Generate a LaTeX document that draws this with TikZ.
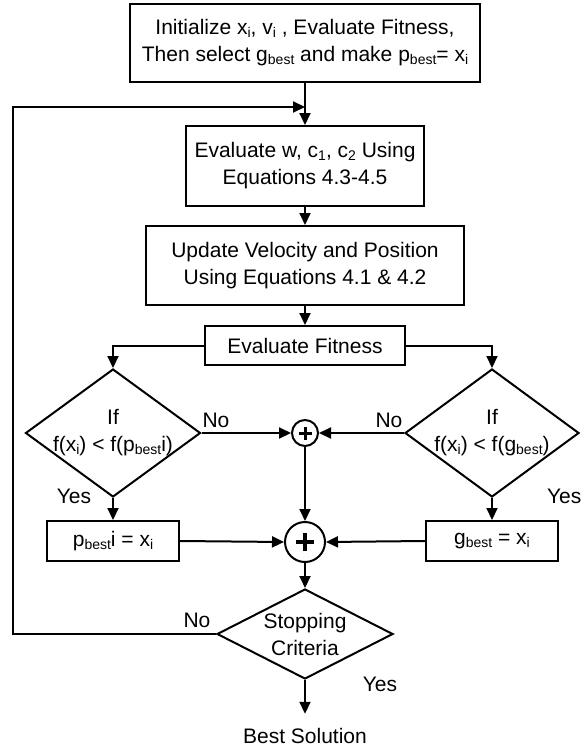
\documentclass[tikz,border=0pt]{standalone}
\usepackage{fontspec}
\setmainfont{Liberation Sans}
\usetikzlibrary{arrows.meta,shapes.geometric}
% lowered, smaller text for subscripts
\newcommand{\sbs}[1]{\raisebox{-0.25ex}{\fontsize{14}{14}\selectfont #1}}

\begin{document}
\begin{tikzpicture}[x=1pt,y=-1pt,
  every node/.style={font=\fontsize{21}{27}\selectfont},
  line width=2pt,
  box/.style={draw, rectangle, inner sep=0pt, align=center},
  dec/.style={draw, diamond, inner sep=0pt},
  sumnode/.style={draw, circle, inner sep=0pt},
  arr/.style={-{Triangle[length=12pt,width=11pt]}},
  lbl/.style={inner sep=0pt, anchor=base},
  dectext/.style={inner sep=0pt, align=center},
]
\useasboundingbox (0,0) rectangle (581,752);

% process boxes
\node[box, minimum width=350pt, minimum height=78pt] (init) at (305,43)
  {Initialize x\sbs{i}, v\sbs{i} , Evaluate Fitness,\\Then select g\sbs{best} and make p\sbs{best}= x\sbs{i}};
\node[box, minimum width=238pt, minimum height=80pt] (coef) at (305,166)
  {Evaluate w, c\sbs{1}, c\sbs{2} Using\\Equations 4.3-4.5};
\node[box, minimum width=318pt, minimum height=79pt] (upd) at (305,265.5)
  {Update Velocity and Position\\Using Equations 4.1 \& 4.2};
\node[box, minimum width=200pt, minimum height=39pt] (fit) at (305,345.5) {Evaluate Fitness};

% decisions
\node[dec, minimum width=175pt, minimum height=128pt] (dp) at (113,433) {};
\node[dectext] (dpt) at (dp.center) {If\\f(x\sbs{i}) < f(p\sbs{best}i)};
\node[dec, minimum width=174pt, minimum height=128pt] (dg) at (492,433) {};
\node[dectext] (dgt) at (dg.center) {If\\f(x\sbs{i}) < f(g\sbs{best})};

% summing junctions
\node[sumnode, minimum size=26pt] (s1) at (305,433) {};
\node[sumnode, minimum size=40pt] (s2) at (305,542) {};
\draw[line width=3pt] ([xshift=-6.5pt]s1.center) -- ([xshift=6.5pt]s1.center)
  ([yshift=-6.5pt]s1.center) -- ([yshift=6.5pt]s1.center);
\draw[line width=3.6pt] ([xshift=-9pt]s2.center) -- ([xshift=9pt]s2.center)
  ([yshift=-9pt]s2.center) -- ([yshift=9pt]s2.center);

% update boxes
\node[box, minimum width=132pt, minimum height=40pt] (pb) at (113,541) {p\sbs{best}i = x\sbs{i}};
\node[box, minimum width=132pt, minimum height=40pt] (gb) at (492,541) {g\sbs{best} = x\sbs{i}};

% stopping test
\node[dec, minimum width=176pt, minimum height=90pt] (stop) at (305,634) {};
\node[dectext] (stopt) at (stop.center) {Stopping\\Criteria};
\node[inner sep=0pt, anchor=base] (best) at (305,743) {Best Solution};

\coordinate (join) at (305,107);
\coordinate (back) at (13,634);

% connectors
\draw[arr] (init.south) -- (coef.north);
\draw[arr] (stop.west) -- (back) |- (join);
\draw[arr] (coef.south) -- (upd.north);
\draw[arr] (upd.south) -- (fit.north);
\draw[arr] (fit.west) -| (dp.north);
\draw[arr] (fit.east) -| (dg.north);
\draw[arr] (dp.east) -- (s1.west);
\draw[arr] (dg.west) -- (s1.east);
\draw[arr] (s1.south) -- (s2.north);
\draw[arr] (dp.south) -- (pb.north);
\draw[arr] (dg.south) -- (gb.north);
\draw[arr] (pb.east) -- (s2.west);
\draw[arr] (gb.west) -- (s2.east);
\draw[arr] (s2.south) -- (stop.north);
\draw[arr] (stop.south) -- ([yshift=13pt]best.north);

% branch labels
\node[lbl] (nol) at (216,427) {No};
\node[lbl] (nor) at (389,427) {No};
\node[lbl] (yesl) at (74,503) {Yes};
\node[lbl, anchor=base west] (yesr) at (546,503) {Yes};
\node[lbl] (nos) at (197,627) {No};
\node[lbl] (yess) at (380,691) {Yes};
\end{tikzpicture}
\end{document}
